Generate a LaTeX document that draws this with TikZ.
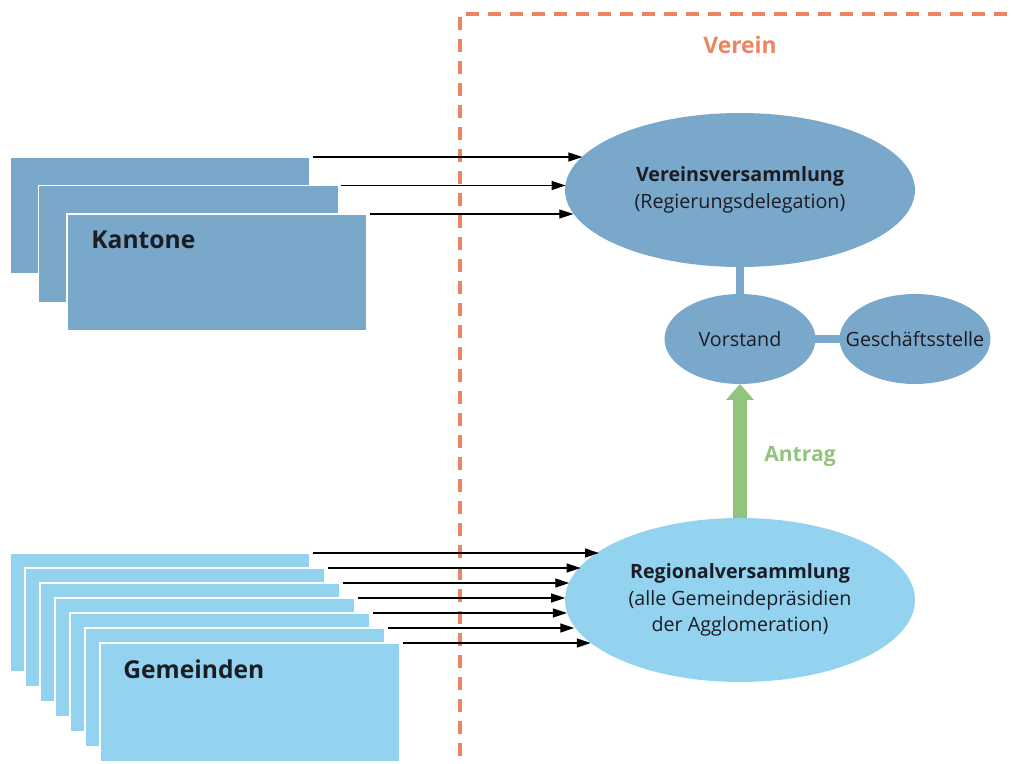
\documentclass[tikz,border=0pt]{standalone}
\usepackage{fontspec}
\setmainfont{Open Sans}
\usepackage{tikz}
\usetikzlibrary{shapes.geometric, arrows.meta, positioning}
\pgfdeclarelayer{bg}
\pgfsetlayers{bg,main}
\definecolor{kblue}{HTML}{7AA8CA}
\definecolor{gblue}{HTML}{93D3F0}
\definecolor{vorange}{HTML}{EC8460}
\definecolor{agreen}{HTML}{93C47E}
\definecolor{tdark}{HTML}{1C1C24}

\begin{document}
\begin{tikzpicture}[x=0.02cm, y=-0.02cm,
    box/.style={rectangle, draw=white, line width=1pt, minimum width=6cm, anchor=north west, inner sep=0, outer sep=0},
    ell/.style={ellipse, inner sep=0, outer sep=0, align=center, text=tdark, font=\fontsize{11.2}{15.3}\selectfont},
    feed/.style={line width=0.7pt, -{Triangle[length=0.28cm, width=0.18cm]}},
    link/.style={kblue, line width=0.16cm},
    bigtxt/.style={font=\fontsize{14}{16}\selectfont\bfseries, text=tdark, inner sep=0}]
      \useasboundingbox (0,0) rectangle (1012,764);
      \clip (0,0) rectangle (1012,764);

      % Verein
      \draw[vorange, line width=0.08cm, dash pattern=on 0.26cm off 0.18cm] (460,800) -- (460,14) -- (1050,14);
      \node[text=vorange, font=\fontsize{13}{15}\selectfont\bfseries] (verein) at (740,45) {Verein};

      \node[ell, fill=kblue, minimum width=7cm, minimum height=3.08cm] (vv) at (740,190)
        {\textbf{Vereinsversammlung}\\(Regierungsdelegation)};
      \node[ell, fill=kblue, minimum width=3.02cm, minimum height=1.8cm] (vs) at (740,339) {Vorstand};
      \node[ell, fill=kblue, minimum width=3.02cm, minimum height=1.8cm,
        label={[text=tdark, font=\fontsize{11.2}{15.3}\selectfont]center:Geschäftsstelle}] (gs) at (915,339) {};
      \node[ell, fill=gblue, minimum width=7cm, minimum height=3.28cm] (ra) at (740,600)
        {\textbf{Regionalversammlung}\\(alle Gemeindepräsidien\\der Agglomeration)};

      \begin{pgfonlayer}{bg}
        \draw[link] (vv) -- (vs);
        \draw[link] (vs) -- (gs);
      \end{pgfonlayer}

      \draw[agreen, line width=0.28cm, -{Triangle[length=0.32cm, width=0.54cm]}] (ra.north) -- (vs.south);
      \node[text=agreen, font=\fontsize{12}{14}\selectfont\bfseries] (antrag) at (800,456) {Antrag};

      % Kantone
      \foreach \i in {1, 2, 3}
        \node[box, fill=kblue, minimum height=2.34cm] (k\i) at ({10+28.5*(\i-1)}, {157+28.5*(\i-1)}) {};
      \node[bigtxt, below right=0.33cm and 0.48cm of k3.north west] (kt) {Kantone};
      \foreach \i/\a in {1/168.2, 2/178.5, 3/188.2}
        \draw[feed] ([xshift=0.06cm]k\i.north east) -- (vv.\a |- k\i.north east);

      % Gemeinden
      \foreach \i in {1, ..., 7}
        \node[box, fill=gblue, minimum height=2.38cm] (g\i) at ({10+15*(\i-1)}, {553+15*(\i-1)}) {};
      \node[bigtxt, below right=0.32cm and 0.46cm of g7.north west] (gt) {Gemeinden};
      \foreach \i/\a in {1/161.9, 2/168.8, 3/174.3, 4/179.3, 5/184.3, 6/189.7, 7/196.1}
        \draw[feed] ([xshift=0.06cm]g\i.north east) -- (ra.\a |- g\i.north east);
    \end{tikzpicture}
\end{document}
